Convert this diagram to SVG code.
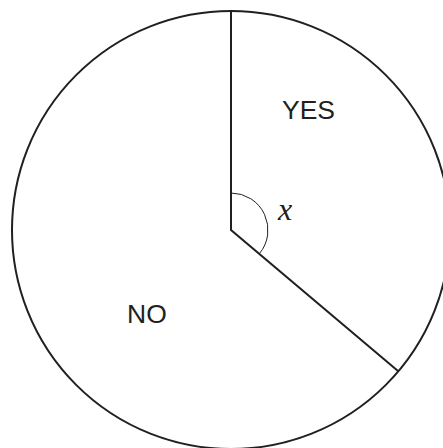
<svg xmlns="http://www.w3.org/2000/svg" width="443" height="448" viewBox="0 0 443 448">
<style>
.ln{fill:none;stroke:#231f20;stroke-width:2}
.thin{fill:none;stroke:#231f20;stroke-width:1}
.lbl{font-family:"Liberation Sans",Arial,sans-serif;font-size:26.5px;fill:#231f20}
.var{font-family:"Liberation Serif","Times New Roman",serif;font-style:italic;font-size:32px;fill:#231f20}
</style>
<rect width="443" height="448" fill="#fff"/>
<g id="pie">
<circle class="ln" cx="231" cy="230" r="219"/>
</g>
<g id="connectors">
<path class="ln" d="M231 11 V230 L398 371"/>
<path class="thin" d="M231 193 A37 37 0 0 1 259.3 253.8"/>
</g>
<g id="yes"><text class="lbl" x="282" y="119">YES</text></g>
<g id="no"><text class="lbl" x="127" y="323">NO</text></g>
<g id="angle"><text class="var" x="278" y="220">x</text></g>
</svg>
